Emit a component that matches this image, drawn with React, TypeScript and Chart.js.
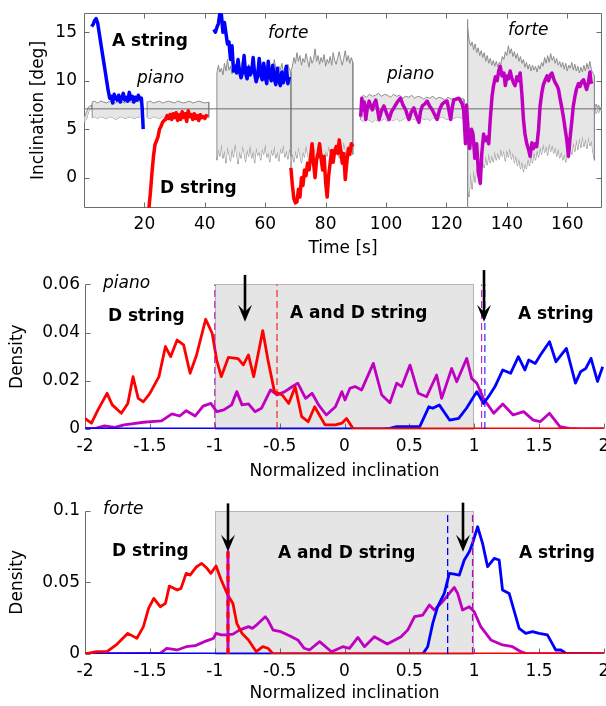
import React, { useEffect, useRef } from 'react';
import { Chart, registerables } from 'chart.js';

Chart.register(...registerables);

const FAMILY = "'DejaVu Sans', sans-serif";
const AXIS_COLOR = '#6b6b6b';
const RED = '#ff0000';
const BLUE = '#0000ff';
const MAGENTA = '#c000c0';
const ENV_LINE = '#8c8c8c';
const ENV_FILL = '#e6e6e6';
const MEAN_LINE = '#6e6e6e';
const SHADE = '#e5e5e5';

// ================= Top panel: inclination vs time =================
const timeTicks = [20, 40, 60, 80, 100, 120, 140, 160];
const inclTicks = [0, 5, 10, 15];

const tAPiano = [2.5, 3, 3.5, 4, 4.5, 5, 5.5, 6, 6.5, 7, 7.5, 8, 8.5, 9, 9.5, 10, 10.5, 11, 11.5, 12, 12.5, 13, 13.5, 14, 14.5, 15, 15.5, 16, 16.5, 17, 17.5, 18, 18.5, 19, 19.3, 19.6];
const incAPiano = [15.6, 15.8, 16.2, 16.4, 16.0, 15.0, 14.0, 13.0, 12.0, 11.0, 10.0, 9.0, 8.2, 8.4, 7.7, 8.6, 8.2, 8.0, 8.5, 7.8, 8.2, 8.7, 8.0, 8.3, 7.9, 8.8, 8.1, 8.4, 7.8, 8.3, 8.0, 8.5, 8.1, 8.2, 7.0, 5.0];

const tDPiano = [21.5, 22, 22.5, 23, 23.5, 24, 24.5, 25, 25.5, 26, 26.5, 27, 27.5, 28, 28.5, 29, 29.5, 30, 30.5, 31, 31.5, 32, 32.5, 33, 33.5, 34, 34.5, 35, 35.5, 36, 36.5, 37, 37.5, 38, 38.5, 39, 39.5, 40, 40.5, 41];
const incDPiano = [-3.1, -1.5, 0.5, 2.2, 3.4, 3.8, 4.2, 5.0, 5.3, 5.7, 5.9, 6.0, 6.4, 6.1, 6.5, 6.0, 6.6, 6.2, 6.7, 5.9, 6.5, 6.0, 6.8, 6.2, 6.6, 5.8, 6.9, 6.3, 6.5, 6.0, 6.6, 6.1, 6.4, 5.9, 6.5, 6.2, 6.3, 6.1, 6.4, 6.3];

const tAForte = [43, 43.5, 44, 44.5, 45, 45.5, 46, 46.5, 47, 47.5, 48, 48.5, 49, 49.5,
  50, 50.5, 51, 51.5, 52, 52.5, 53, 53.5, 54, 54.5, 55, 55.5, 56, 56.5, 57, 57.5, 58, 58.5, 59, 59.5,
  60, 60.5, 61, 61.5, 62, 62.5, 63, 63.5, 64, 64.5, 65, 65.5, 66, 66.5, 67, 67.5, 68];
const incAForte = [15.3, 15.0, 15.5, 15.9, 17.0, 16.8, 15.0, 16.0, 14.9, 13.8, 14.0, 12.2, 13.6, 11.0,
  11.5, 10.8, 12.2, 11.0, 10.3, 10.9, 12.6, 10.8, 10.2, 11.4, 10.6, 10.9, 12.4, 10.7, 9.9, 10.5, 12.3, 10.6, 10.1, 11.8,
  10.4, 9.7, 12.0, 10.5, 10.0, 11.6, 10.2, 9.6, 11.3, 10.1, 9.5, 10.9, 9.8, 10.3, 11.5, 9.7, 10.4];

const tDForte = [68.5, 69, 69.5, 70, 70.5, 71, 71.5, 72, 72.5, 73, 73.5, 74, 74.5, 75, 75.5, 76, 76.5, 77, 77.5, 78,
  78.5, 79, 79.5, 80, 80.5, 81, 81.5, 82, 82.5, 83, 83.5, 84, 84.5, 85, 85.5, 86, 86.5, 87, 87.5, 88, 88.5, 89];
const incDForte = [1.0, -0.8, -2.2, -2.6, -2.5, -1.2, -2.0, 0.0, -0.8, 0.8, 0.2, 1.5, 0.8, 2.0, 3.5, 1.5, 0.0, 1.8, 2.5, 3.5,
  2.0, 0.8, 2.2, -0.5, -2.0, 0.2, 1.5, 2.8, 1.6, 2.8, 3.2, 2.5, 3.9, 2.8, 1.5, 2.5, -0.2, 1.5, 3.0, 2.4, 3.5, 3.2];

const tADPiano = [91.6, 92.0, 92.4, 92.8, 93.3, 93.8, 94.4, 95.0, 95.5, 96.0,
  96.6, 97.2, 97.7, 98.5, 99.3, 100.2, 101.0, 101.8, 102.6, 103.7,
  104.8, 105.6, 106.5, 107.0, 107.6, 108.4, 109.2, 110.0, 110.9, 111.4,
  112.0, 112.8, 113.6, 114.4, 115.3, 116.1, 116.9, 117.7, 118.6, 119.4,
  120.2, 120.8, 121.4, 121.9, 122.4, 123.2, 124.1, 124.7, 125.2, 125.7];
const incADPiano = [6.3, 8.2, 7.0, 7.8, 6.0, 7.2, 7.9, 7.3, 7.0, 7.6,
  8.0, 7.0, 6.0, 6.9, 7.4, 6.6, 6.0, 6.8, 7.2, 7.8,
  8.2, 7.5, 7.0, 6.5, 6.0, 6.8, 7.2, 6.4, 5.7, 6.8,
  7.4, 7.6, 7.9, 7.4, 7.0, 6.5, 6.0, 7.0, 7.6, 7.8,
  7.9, 7.0, 6.0, 7.2, 8.0, 8.1, 8.2, 7.9, 7.6, 7.0];

const tADForte = [125.7, 126.3, 126.6, 127.2, 127.7, 128.3, 128.8, 129.4, 130.0, 130.6,
  131.2, 131.7, 132.3, 132.8, 133.4, 134.0, 134.5, 135.1, 135.6, 136.2,
  136.8, 137.3, 137.8, 138.4, 139.0, 139.5, 140.0, 140.5, 141.1, 141.6,
  142.2, 142.7, 143.3, 143.8, 144.4, 145.0, 145.5, 146.0, 146.6, 147.2,
  147.7, 148.3, 148.8, 149.4, 149.9, 150.5, 151.0, 151.6, 152.1, 152.7,
  153.3, 153.8, 154.4, 154.9, 155.5, 156.0, 156.6, 157.1, 157.6, 158.2,
  158.7, 159.3, 159.8, 160.4, 160.9, 161.5, 162.0, 162.6, 163.1, 163.7,
  164.2, 164.8, 165.4, 165.9, 166.4, 167.0, 167.5, 167.8, 168.1];
const incADForte = [7.0, 3.5, 7.5, 4.8, 3.0, 5.0, 4.5, 2.0, 3.5, 0.5,
  -0.6, 2.5, 4.5, 3.8, 4.2, 3.5, 6.0, 8.4, 9.5, 10.4,
  10.0, 11.0, 11.5, 10.5, 10.8, 9.5, 10.5, 10.2, 11.0, 10.3,
  9.8, 9.5, 10.4, 10.0, 10.8, 8.5, 6.0, 4.5, 3.5, 2.9,
  2.2, 3.6, 3.0, 3.5, 3.2, 5.0, 7.4, 8.8, 9.6, 10.1,
  10.5, 10.0, 10.6, 10.8, 10.2, 9.8, 9.5, 9.1, 8.2, 7.2,
  6.3, 5.0, 4.0, 2.2, 4.0, 5.8, 7.4, 8.5, 9.2, 9.7,
  9.4, 9.9, 10.1, 9.6, 9.1, 9.8, 10.9, 10.0, 9.7];

const tMean = [0, 171.5];
const incMean = [7.1, 7.1];
const tSpike = [127, 127];
const incSpike = [16.3, -3.13];

// grey envelopes (upper / lower) of all strings
const tEnv0 = [0, 0.5, 1, 1.5, 2, 2.5];
const upEnv0 = [6.2, 6.5, 6.9, 7.3, 7.4, 7.5];
const loEnv0 = [5.7, 5.9, 6.2, 6.8, 7.0, 7.1];

const tEnv1 = [2.7, 3.5, 4.5, 5.5, 6.5, 7.5, 8.5, 9.5, 10.5, 11.5, 12.5, 13.5, 14.5, 15.5, 16.5, 17.5, 18.5, 19.2];
const upEnv1 = [7.8, 7.9, 7.7, 7.9, 7.8, 7.7, 7.9, 7.8, 7.7, 7.9, 7.8, 7.7, 7.9, 7.8, 7.7, 7.9, 7.8, 7.8];
const loEnv1 = [6.2, 6.3, 6.1, 6.3, 6.2, 6.1, 6.3, 6.2, 6.0, 6.2, 6.3, 6.1, 6.2, 6.3, 6.1, 6.2, 6.3, 6.2];

const tEnv2 = [20.9, 22, 23, 24, 25, 26, 27, 28, 29, 30, 31, 32, 33, 34, 35, 36, 37, 38, 39, 40, 41.3];
const upEnv2 = [7.8, 7.9, 7.7, 7.8, 7.9, 7.7, 7.8, 7.9, 7.8, 7.7, 7.9, 7.8, 7.7, 7.8, 7.9, 7.7, 7.8, 7.9, 7.8, 7.7, 7.8];
const loEnv2 = [6.2, 6.1, 6.3, 6.2, 6.1, 6.3, 6.2, 6.1, 6.3, 6.2, 6.1, 6.3, 6.2, 6.1, 6.3, 6.2, 6.1, 6.2, 6.3, 6.2, 6.2];

const tEnv3 = [44, 44.5, 45, 45.5, 46, 46.5, 47, 47.5, 48, 48.5,
  49, 49.5, 50, 50.5, 51, 51.5, 52, 52.5, 53, 53.5,
  54, 54.5, 55, 55.5, 56, 56.5, 57, 57.5, 58, 58.5,
  59, 59.5, 60, 60.5, 61, 61.5, 62, 62.5, 63, 63.5,
  64, 64.5, 65, 65.5, 66, 66.5, 67, 67.5, 68, 68.5];
const upEnv3 = [10.8, 11.6, 10.9, 11.3, 10.6, 11.8, 11.0, 12.2, 11.1, 11.5,
  10.7, 11.9, 11.2, 12.0, 10.9, 11.4, 11.0, 12.3, 11.1, 11.6,
  10.8, 11.7, 11.2, 11.0, 12.1, 11.3, 10.7, 11.5, 11.0, 12.0,
  11.2, 10.8, 11.6, 11.1, 11.9, 10.9, 11.4, 11.0, 12.2, 11.3,
  10.8, 11.5, 11.1, 11.8, 10.9, 11.4, 11.0, 11.7, 11.2, 10.9];
const loEnv3 = [1.8, 2.9, 2.2, 3.5, 2.0, 2.8, 1.5, 3.2, 2.4, 1.7,
  3.0, 2.1, 3.6, 2.5, 1.4, 2.7, 2.0, 3.3, 2.6, 1.6,
  2.9, 2.2, 3.4, 2.0, 2.8, 1.5, 3.1, 2.3, 2.7, 1.8,
  3.0, 2.4, 3.5, 2.1, 2.6, 1.6, 2.9, 2.3, 3.3, 2.0,
  2.7, 1.7, 3.0, 2.5, 3.4, 2.1, 2.8, 1.9, 3.0, 2.2];

const tEnv4 = [68.5, 69, 69.5, 70, 70.5, 71, 71.5, 72, 72.5, 73,
  73.5, 74, 74.5, 75, 75.5, 76, 76.5, 77, 77.5, 78,
  78.5, 79, 79.5, 80, 80.5, 81, 81.5, 82, 82.5, 83,
  83.5, 84, 84.5, 85, 85.5, 86, 86.5, 87, 87.5, 88,
  88.5, 89];
const upEnv4 = [11.0, 11.5, 12.4, 11.8, 12.9, 12.0, 12.6, 11.6, 12.3, 11.9,
  12.8, 12.1, 11.4, 12.5, 11.8, 12.2, 13.3, 12.0, 12.6, 11.7,
  12.4, 11.9, 12.7, 11.5, 12.2, 11.8, 12.5, 11.6, 12.9, 12.1,
  11.7, 12.4, 13.0, 12.2, 11.6, 12.3, 13.1, 12.0, 12.6, 11.8,
  12.4, 11.9];
const loEnv4 = [1.0, 2.5, 1.6, 2.8, 2.0, 3.2, 2.3, 1.5, 2.7, 2.1,
  3.4, 2.4, 1.8, 3.0, 2.2, 3.6, 2.5, 1.7, 2.9, 2.0,
  3.1, 2.4, 1.6, 2.8, 2.2, 3.3, 2.6, 1.9, 3.0, 2.3,
  3.5, 2.7, 2.0, 3.2, 2.5, 3.7, 2.8, 2.1, 3.4, 2.6,
  3.1, 2.4];

const tEnv5 = [91.5, 92.5, 93.5, 94.5, 95.5, 96.5, 97.5, 98.5, 99.5, 100.5, 101.5, 102.5, 103.5, 104.5, 105.5, 106.5, 107.5,
  108.5, 109.5, 110.5, 111.5, 112.5, 113.5, 114.5, 115.5, 116.5, 117.5, 118.5, 119.5, 120.5, 121.5, 122.5, 123.5, 124.5, 125.8];
const upEnv5 = [8.2, 8.5, 8.3, 8.6, 8.4, 8.5, 8.7, 8.4, 8.6, 8.5, 8.3, 8.6, 8.4, 8.5, 8.2, 8.4, 8.3,
  8.5, 8.2, 8.4, 8.3, 8.1, 8.3, 8.2, 8.4, 8.1, 8.3, 8.2, 8.0, 8.3, 8.1, 8.2, 8.0, 8.2, 8.1];
const loEnv5 = [6.0, 5.8, 6.1, 5.9, 5.7, 6.0, 5.8, 5.9, 6.1, 5.8, 6.0, 5.9, 6.1, 5.8, 6.0, 6.2, 5.9,
  6.1, 6.0, 5.9, 6.2, 6.0, 6.1, 5.9, 6.2, 6.0, 6.1, 6.3, 6.1, 6.0, 6.2, 6.1, 6.3, 6.2, 6.1];

const tEnv6 = [127, 127.5, 128, 128.5, 129, 129.5, 130, 130.5, 131, 131.5,
  132, 132.5, 133, 133.5, 134, 134.5, 135, 135.5, 136, 136.5,
  137, 137.5, 138, 138.5, 139, 139.5, 140, 140.5, 141, 141.5,
  142, 142.5, 143, 143.5, 144, 144.5, 145, 145.5, 146, 146.5,
  147, 147.5, 148, 148.5, 149, 149.5, 150, 150.5, 151, 151.5,
  152, 152.5, 153, 153.5, 154, 154.5, 155, 155.5, 156, 156.5,
  157, 157.5, 158, 158.5, 159, 159.5, 160, 160.5, 161, 161.5,
  162, 162.5, 163, 163.5, 164, 164.5, 165, 165.5, 166, 166.5,
  167, 167.5, 168, 168.5, 169];
const upEnv6 = [15.5, 14.2, 13.6, 14.0, 13.2, 13.8, 12.9, 13.4, 12.6, 13.1,
  12.4, 12.9, 12.0, 12.6, 11.8, 12.3, 11.6, 12.1, 11.5, 12.0,
  11.4, 11.9, 11.7, 12.5, 12.2, 13.0, 12.6, 13.6, 12.8, 13.3,
  12.5, 13.0, 12.3, 12.8, 12.0, 12.5, 11.8, 12.2, 11.4, 11.9,
  11.2, 11.7, 11.0, 11.6, 11.1, 11.5, 10.9, 11.6, 11.2, 11.9,
  11.5, 12.4, 11.8, 12.6, 11.9, 12.8, 12.1, 12.5, 11.8, 12.3,
  11.6, 12.0, 11.4, 11.9, 11.2, 11.8, 11.0, 11.6, 11.3, 11.9,
  11.1, 11.7, 11.0, 11.5, 10.8, 11.4, 10.9, 11.6, 11.0, 11.8,
  11.2, 12.0, 11.1, 10.8, 10.5];
const loEnv6 = [-1.0, -2.0, 0.5, -1.2, 0.8, -0.5, 1.2, 0.0, 1.5, 0.4,
  1.8, 1.0, 2.2, 1.3, 2.5, 1.5, 2.3, 1.6, 2.7, 1.8,
  2.6, 1.9, 3.0, 2.2, 2.8, 1.7, 2.9, 2.1, 3.1, 1.9,
  2.6, 1.5, 2.3, 1.2, 2.0, 0.9, 1.7, 0.6, 1.5, 0.9,
  2.0, 1.2, 2.4, 1.5, 2.7, 1.8, 2.9, 2.1, 3.2, 2.4,
  3.5, 2.6, 3.3, 2.3, 3.6, 2.7, 3.4, 2.5, 3.2, 2.2,
  3.0, 2.0, 2.7, 1.8, 2.5, 1.6, 2.9, 2.0, 3.3, 2.4,
  3.6, 2.7, 3.9, 2.9, 4.1, 3.1, 4.3, 3.2, 4.0, 3.0,
  4.2, 3.3, 3.8, 2.6, 1.8];

const tEnv7 = [169.2, 169.6, 170, 170.4, 170.8, 171.2, 171.5];
const upEnv7 = [7.4, 7.6, 7.2, 7.5, 7.0, 7.3, 7.1];
const loEnv7 = [6.8, 6.6, 7.0, 6.7, 7.1, 6.9, 7.0];

// ================= Density panels =================
const normTicks = [-2, -1.5, -1, -0.5, 0, 0.5, 1, 1.5, 2];
const densTicksPiano = [0, 0.02, 0.04, 0.06];
const densTicksForte = [0, 0.05, 0.1];
const bothRange = [-1, 1];

// piano
const xDPiano = [-2.0, -1.95, -1.9, -1.83, -1.79, -1.72, -1.67, -1.63, -1.59, -1.55, -1.5, -1.43, -1.38, -1.34, -1.29, -1.24, -1.19, -1.14, -1.07, -1.02,
  -0.985, -0.95, -0.895, -0.82, -0.78, -0.74, -0.7, -0.63, -0.59, -0.54, -0.48, -0.43, -0.38, -0.33, -0.28, -0.23, -0.15, -0.07, -0.02, 0.016, 0.068, 0.1, 2.0];
const dDPiano = [0.0044, 0.0024, 0.0079, 0.0148, 0.0100, 0.0065, 0.0106, 0.0217, 0.0127, 0.0113, 0.0148, 0.0217, 0.0342, 0.0300, 0.0369, 0.0349, 0.0231, 0.0307, 0.0455, 0.0397,
  0.0286, 0.0217, 0.0297, 0.0292, 0.0266, 0.0307, 0.0217, 0.0408, 0.0286, 0.0155, 0.0141, 0.0106, 0.0175, 0.0051, 0.0030, 0.0092, 0.0017, 0.0017, 0.0024, 0.0044, 0, 0, 0];

const xADPiano = [-2.0, -1.92, -1.85, -1.77, -1.7, -1.64, -1.55, -1.49, -1.41, -1.33, -1.27, -1.22, -1.15, -1.09, -1.03,
  -0.985, -0.93, -0.87, -0.83, -0.79, -0.74, -0.69, -0.64, -0.57, -0.52, -0.46, -0.41, -0.36, -0.30, -0.25,
  -0.20, -0.14, -0.07, -0.02, 0.004, 0.042, 0.081, 0.132, 0.222, 0.287, 0.35, 0.402, 0.441, 0.505, 0.569,
  0.633, 0.71, 0.749, 0.826, 0.865, 0.942, 0.98, 1.02, 1.07, 1.15, 1.22, 1.30, 1.38, 1.455, 1.51, 1.58, 1.66, 1.73, 1.81, 2.0];
const dADPiano = [0.0003, 0.0003, 0.0013, 0.0007, 0.0017, 0.0021, 0.0028, 0.0031, 0.0034, 0.0063, 0.0054, 0.0076, 0.0054, 0.0095, 0.0106,
  0.0072, 0.0079, 0.0100, 0.0155, 0.0100, 0.0104, 0.0072, 0.0086, 0.0162, 0.0141, 0.0155, 0.0173, 0.0190, 0.0127, 0.0148,
  0.0100, 0.0058, 0.0092, 0.0155, 0.0120, 0.0169, 0.0176, 0.0162, 0.0272, 0.0141, 0.0109, 0.0190, 0.0176, 0.0265, 0.0148,
  0.0134, 0.0224, 0.0127, 0.0251, 0.0196, 0.0293, 0.0210, 0.0190, 0.0127, 0.0065, 0.0104, 0.0058, 0.0072, 0.0037, 0.0031, 0.0065, 0.0010, 0.0003, 0, 0];

const xAPiano = [-2.0, 0.30, 0.35, 0.402, 0.505, 0.58, 0.65, 0.68, 0.73, 0.81, 0.88, 0.94, 1.02, 1.07, 1.11, 1.16,
  1.22, 1.28, 1.34, 1.39, 1.42, 1.47, 1.51, 1.58, 1.63, 1.71, 1.78, 1.82, 1.86, 1.90, 1.95, 1.99];
const dAPiano = [0, 0, 0.0003, 0.0010, 0.0010, 0.0010, 0.0092, 0.0086, 0.0100, 0.0037, 0.0044, 0.0086, 0.0155, 0.0106, 0.0134, 0.0176,
  0.0245, 0.0231, 0.0300, 0.0245, 0.0286, 0.0272, 0.0307, 0.0362, 0.0279, 0.0334, 0.0190, 0.0238, 0.0251, 0.0293, 0.0197, 0.0258];

// forte
const xDForte = [-2.0, -1.91, -1.83, -1.76, -1.67, -1.60, -1.55, -1.51, -1.47, -1.42, -1.38, -1.35, -1.29, -1.26, -1.22, -1.19,
  -1.14, -1.10, -1.06, -1.03, -0.99, -0.95, -0.90, -0.86, -0.83, -0.79, -0.74, -0.68, -0.63, -0.59, -0.55, 2.0];
const dDForte = [0, 0.0016, 0.0016, 0.0063, 0.0144, 0.0109, 0.0191, 0.0319, 0.0388, 0.0330, 0.0353, 0.0474, 0.0446, 0.0458, 0.0563, 0.0551,
  0.0609, 0.0632, 0.0598, 0.0563, 0.0614, 0.0516, 0.0412, 0.0353, 0.0214, 0.0144, 0.0098, 0.0016, 0.0051, 0.0040, 0, 0];

const xADForte = [-2.0, -1.58, -1.42, -1.37, -1.29, -1.22, -1.15, -1.11, -1.08, -1.01, -0.99, -0.95, -0.91, -0.86, -0.81, -0.74, -0.71, -0.67,
  -0.61, -0.59, -0.55, -0.49, -0.42, -0.36, -0.31, -0.27, -0.192, -0.10, -0.013, 0.038, 0.103, 0.154, 0.23, 0.33, 0.436, 0.487,
  0.54, 0.603, 0.654, 0.692, 0.756, 0.808, 0.846, 0.872, 0.91, 0.962, 1.0, 1.05, 1.128, 1.218, 1.295, 1.359, 1.397, 2.0];
const dADForte = [0, 0.0005, 0.0005, 0.0040, 0.0028, 0.0051, 0.0058, 0.0074, 0.0086, 0.0109, 0.0144, 0.0133, 0.0133, 0.0139, 0.0167, 0.0191, 0.0179, 0.0209,
  0.0260, 0.0237, 0.0167, 0.0156, 0.0126, 0.0098, 0.0040, 0.0028, 0.0086, 0.0016, 0.0051, 0.0040, 0.0116, 0.0051, 0.0121, 0.0070, 0.0121, 0.0167,
  0.0260, 0.0272, 0.0342, 0.0307, 0.0365, 0.0423, 0.0465, 0.0423, 0.0307, 0.0330, 0.0295, 0.0191, 0.0098, 0.0063, 0.0051, 0.0016, 0.0005, 0];

const xAForte = [-2.0, 0.603, 0.641, 0.68, 0.718, 0.769, 0.808, 0.846, 0.885, 0.923, 0.962, 0.987, 1.026, 1.064, 1.103, 1.154,
  1.192, 1.218, 1.269, 1.346, 1.397, 1.449, 1.50, 1.564, 1.628, 1.667, 1.705, 2.0];
const dAForte = [0, 0, 0.0051, 0.0214, 0.0330, 0.0423, 0.0563, 0.0558, 0.0551, 0.0656, 0.0714, 0.0772, 0.0888, 0.0772, 0.0609, 0.0667,
  0.0656, 0.0446, 0.0423, 0.0179, 0.0144, 0.0156, 0.0144, 0.0133, 0.0028, 0.0028, 0.0005, 0];

// threshold markers (dashed lines) and arrows
const pianoThrMag = [-1, 1.057];
const pianoThrRed = [-0.52];
const pianoThrBlue = [1.082];
const forteThrBlue = [0.795];
const forteThrMag = [0.987];
const forteThrMix = [-0.898];
const forteThrMixTop = 0.072;
const pianoArrowX = [-0.767, 1.075];
const pianoArrowTop = [0.0639, 0.0659];
const pianoArrowTip = [0.0445, 0.0445];
const forteArrowX = [-0.898, 0.91];
const forteArrowTop = [0.1051, 0.1056];
const forteArrowTip = [0.0714, 0.0714];

// ================= helpers =================
type XY = { x: number; y: number };
const pts = (xs: number[], ys: number[]): XY[] => xs.map((x, i) => ({ x, y: ys[i] }));

function lineSet(data: XY[], color: string, width: number, order: number, extra: any = {}) {
  return {
    data, borderColor: color, backgroundColor: color, borderWidth: width, pointRadius: 0,
    fill: false, order, borderJoinStyle: 'round', tension: 0, ...extra,
  };
}

function envelope(t: number[], up: number[], lo: number[]) {
  const n = t.length;
  const upper = [{ x: t[0], y: lo[0] }, ...pts(t, up), { x: t[n - 1], y: lo[n - 1] }];
  return [
    lineSet(upper, ENV_LINE, 1, 3, { fill: '+1', backgroundColor: ENV_FILL, clip: 0, borderJoinStyle: 'miter' }),
    lineSet(pts(t, lo), ENV_LINE, 1, 3, { clip: 0, borderJoinStyle: 'miter' }),
  ];
}

function vline(x: number, y0: number, y1: number, color: string, width: number, dash: number[], order: number) {
  return lineSet([{ x, y: y0 }, { x, y: y1 }], color, width, order, { borderDash: dash, borderCapStyle: 'butt' });
}

const font = (size = 17, style = '') => `${style} ${size}px ${FAMILY}`.trim();

function makeDecor(cfg: any) {
  return {
    id: 'decor',
    beforeDatasetsDraw(chart: any) {
      const { ctx, chartArea: ca } = chart;
      const xs = chart.scales.x;
      const ys = chart.scales.y;
      ctx.save();
      if (cfg.shade) {
        const l = Math.round(xs.getPixelForValue(cfg.shade[0]));
        const r = Math.round(xs.getPixelForValue(cfg.shade[1]));
        const t = Math.round(ys.getPixelForValue(ys.max));
        const b = Math.round(ys.getPixelForValue(0));
        ctx.fillStyle = SHADE;
        ctx.fillRect(l, t, r - l, b - t);
        ctx.strokeStyle = '#b5b5b5';
        ctx.lineWidth = 1;
        ctx.strokeRect(l + 0.5, t + 0.5, r - l - 1, b - t);
      }
      ctx.strokeStyle = AXIS_COLOR;
      ctx.lineWidth = 1;
      const L = Math.round(ca.left) + 0.5;
      const R = Math.round(ca.right) - 0.5;
      const T = Math.round(ca.top) + 0.5;
      const B = Math.round(ca.bottom) - 0.5;
      ctx.beginPath();
      if (cfg.box) {
        ctx.rect(L, T, R - L, B - T);
      } else {
        ctx.moveTo(L, T);
        ctx.lineTo(L, B);
        ctx.lineTo(R, B);
      }
      const tl = 5;
      for (const v of cfg.xTicks) {
        const px = Math.round(xs.getPixelForValue(v)) + 0.5;
        ctx.moveTo(px, B);
        ctx.lineTo(px, B - tl);
        if (cfg.box) { ctx.moveTo(px, T); ctx.lineTo(px, T + tl); }
      }
      for (const v of cfg.yTicks) {
        const py = Math.round(ys.getPixelForValue(v)) + 0.5;
        ctx.moveTo(L, py);
        ctx.lineTo(L + tl, py);
        if (cfg.box) { ctx.moveTo(R, py); ctx.lineTo(R - tl, py); }
      }
      ctx.stroke();
      ctx.restore();
    },
    afterDatasetsDraw(chart: any) {
      const { ctx } = chart;
      const xs = chart.scales.x;
      const ys = chart.scales.y;
      ctx.save();
      (cfg.arrows || []).forEach((a: any) => {
        const px = Math.round(xs.getPixelForValue(a.x));
        const top = ys.getPixelForValue(a.top);
        const tip = ys.getPixelForValue(a.tip);
        ctx.strokeStyle = '#000';
        ctx.lineWidth = 2.6;
        ctx.beginPath();
        ctx.moveTo(px, top);
        ctx.lineTo(px, tip - 9);
        ctx.stroke();
        ctx.fillStyle = '#000';
        ctx.beginPath();
        ctx.moveTo(px, tip);
        ctx.lineTo(px - 7, tip - 17);
        ctx.lineTo(px, tip - 10);
        ctx.lineTo(px + 7, tip - 17);
        ctx.closePath();
        ctx.fill();
      });
      ctx.fillStyle = '#000';
      ctx.textBaseline = 'alphabetic';
      ctx.textAlign = 'left';
      (cfg.texts || []).forEach((t: any) => {
        ctx.font = font(17, t.style);
        ctx.fillText(t.text, xs.getPixelForValue(t.x), ys.getPixelForValue(t.y));
      });
      ctx.restore();
    },
  };
}

function scaleX(min: number, max: number, ticks: number[], height: number, tickPad: number, title: string, titlePad: number) {
  return {
    type: 'linear', min, max,
    grid: { display: false, drawTicks: false },
    border: { display: false },
    ticks: { font: { family: FAMILY, size: 17 }, color: '#000', padding: tickPad, maxRotation: 0, autoSkip: false, callback: (v: number) => String(v) },
    afterBuildTicks: (s: any) => { s.ticks = ticks.map((v) => ({ value: v })); },
    afterFit: (s: any) => { s.height = height; s.paddingLeft = 0; s.paddingRight = 0; },
    title: { display: true, text: title, color: '#000', font: { family: FAMILY, size: 17 }, padding: { top: 0, bottom: titlePad } },
  };
}

function scaleY(min: number, max: number, ticks: number[], width: number, tickPad: number, title: string, titlePad: number) {
  return {
    type: 'linear', min, max,
    grid: { display: false, drawTicks: false },
    border: { display: false },
    ticks: { font: { family: FAMILY, size: 17 }, color: '#000', padding: tickPad, autoSkip: false, callback: (v: number) => String(v) },
    afterBuildTicks: (s: any) => { s.ticks = ticks.map((v) => ({ value: v })); },
    afterFit: (s: any) => { s.width = width; s.paddingTop = 0; s.paddingBottom = 0; },
    title: { display: true, text: title, color: '#000', font: { family: FAMILY, size: 17 }, padding: { top: titlePad, bottom: 0 } },
  };
}

const baseOptions = (padding: any, scales: any) => ({
  responsive: false,
  animation: false,
  events: [],
  layout: { padding },
  plugins: { legend: { display: false }, tooltip: { enabled: false } },
  scales,
});

function topConfig() {
  const datasets = [
    lineSet(pts(tAPiano, incAPiano), BLUE, 3.5, 1, { clip: 0 }),
    lineSet(pts(tDPiano, incDPiano), RED, 3.5, 1, { clip: 0 }),
    lineSet(pts(tAForte, incAForte), BLUE, 3.5, 1, { clip: 0 }),
    lineSet(pts(tDForte, incDForte), RED, 3.5, 1, { clip: 0 }),
    lineSet(pts(tADPiano, incADPiano), MAGENTA, 3.5, 1, { clip: 0 }),
    lineSet(pts(tADForte, incADForte), MAGENTA, 3.5, 1, { clip: 0 }),
    lineSet(pts(tMean, incMean), MEAN_LINE, 1, 2, { clip: 0 }),
    lineSet(pts(tSpike, incSpike), ENV_LINE, 1, 2, { clip: 0 }),
    ...envelope(tEnv0, upEnv0, loEnv0),
    ...envelope(tEnv1, upEnv1, loEnv1),
    ...envelope(tEnv2, upEnv2, loEnv2),
    ...envelope(tEnv3, upEnv3, loEnv3),
    ...envelope(tEnv4, upEnv4, loEnv4),
    ...envelope(tEnv5, upEnv5, loEnv5),
    ...envelope(tEnv6, upEnv6, loEnv6),
    ...envelope(tEnv7, upEnv7, loEnv7),
  ];
  const decor = makeDecor({
    box: true, xTicks: timeTicks, yTicks: inclTicks,
    texts: [
      { text: 'A string', x: 9.27, y: 13.62, style: 'bold' },
      { text: 'piano', x: 17.55, y: 9.8, style: 'italic' },
      { text: 'D string', x: 25.16, y: -1.61, style: 'bold' },
      { text: 'forte', x: 60.92, y: 14.38, style: 'italic' },
      { text: 'piano', x: 100.3, y: 10.15, style: 'italic' },
      { text: 'forte', x: 140.4, y: 14.72, style: 'italic' },
    ],
  });
  return {
    type: 'line',
    data: { datasets },
    options: baseOptions({ left: 0, right: 4, top: 13, bottom: 0 }, {
      x: scaleX(0, 171.5, timeTicks, 57, 6, 'Time [s]', 5.8),
      y: scaleY(-3.13, 16.99, inclTicks, 84, 7, 'Inclination [deg]', 28),
    }),
    plugins: [decor],
  };
}

function densityConfig(p: any) {
  return {
    type: 'line',
    data: { datasets: p.datasets },
    options: baseOptions({ left: 0, right: 2, top: p.top, bottom: 0 }, {
      x: scaleX(-2, 2, normTicks, p.xHeight, 7.8, 'Normalized inclination', p.titlePad),
      y: scaleY(0, p.yMax, p.yTicks, 85, 5, 'Density', 7.8),
    }),
    plugins: [makeDecor({ box: false, shade: [bothRange[0], bothRange[1]], xTicks: normTicks, yTicks: p.yTicks, arrows: p.arrows, texts: p.texts })],
  };
}

function pianoConfig() {
  const yMax = densTicksPiano[densTicksPiano.length - 1];
  const datasets = [
    ...pianoThrMag.map((x) => vline(x, 0, yMax, MAGENTA, 1, [7, 4], 1)),
    ...pianoThrRed.map((x) => vline(x, 0, yMax, RED, 1, [7, 4], 1)),
    ...pianoThrBlue.map((x) => vline(x, 0, yMax, BLUE, 1, [7, 4], 1)),
    lineSet(pts(xDPiano, dDPiano), RED, 2.8, 2),
    lineSet(pts(xAPiano, dAPiano), BLUE, 2.8, 3),
    lineSet(pts(xADPiano, dADPiano), MAGENTA, 2.8, 4),
  ];
  return densityConfig({
    datasets, yMax, yTicks: densTicksPiano, top: 19.3, xHeight: 56, titlePad: 3.3,
    arrows: pianoArrowX.map((x, i) => ({ x, top: pianoArrowTop[i], tip: pianoArrowTip[i] })),
    texts: [
      { text: 'piano', x: -1.861, y: 0.0583, style: 'italic' },
      { text: 'D string', x: -1.823, y: 0.0449, style: 'bold' },
      { text: 'A and D string', x: -0.42, y: 0.046, style: 'bold' },
      { text: 'A string', x: 1.337, y: 0.0456, style: 'bold' },
    ],
  });
}

function forteConfig() {
  const yMax = densTicksForte[densTicksForte.length - 1];
  const datasets = [
    ...forteThrMix.map((x) => vline(x, 0, forteThrMixTop, RED, 3, [6, 6], 0)),
    ...forteThrMix.map((x) => vline(x, 0, forteThrMixTop, MAGENTA, 3, [], 1)),
    ...forteThrBlue.map((x) => vline(x, 0, yMax, BLUE, 1.3, [7, 4], 1)),
    ...forteThrMag.map((x) => vline(x, 0, yMax, MAGENTA, 1.3, [7, 4], 1)),
    lineSet(pts(xDForte, dDForte), RED, 2.8, 2),
    lineSet(pts(xAForte, dAForte), BLUE, 2.8, 3),
    lineSet(pts(xADForte, dADForte), MAGENTA, 2.8, 4),
  ];
  return densityConfig({
    datasets, yMax, yTicks: densTicksForte, top: 25.7, xHeight: 52, titlePad: 1.8,
    arrows: forteArrowX.map((x, i) => ({ x, top: forteArrowTop[i], tip: forteArrowTip[i] })),
    texts: [
      { text: 'forte', x: -1.861, y: 0.0975, style: 'italic' },
      { text: 'D string', x: -1.792, y: 0.0684, style: 'bold' },
      { text: 'A and D string', x: -0.513, y: 0.0668, style: 'bold' },
      { text: 'A string', x: 1.345, y: 0.0668, style: 'bold' },
    ],
  });
}

function ChartCanvas({ make, top, height }: { make: () => any; top: number; height: number }) {
  const ref = useRef<HTMLCanvasElement>(null);
  useEffect(() => {
    const chart = new Chart(ref.current as HTMLCanvasElement, make());
    return () => chart.destroy();
  }, []);
  return (
    <canvas
      ref={ref}
      width={606}
      height={height}
      style={{ position: 'absolute', left: 0, top, width: 606, height, display: 'block' }}
    />
  );
}

export default function App() {
  return (
    <div style={{ position: 'absolute', left: 0, top: 0, width: 606, height: 706, background: '#fff', overflow: 'hidden' }}>
      <ChartCanvas make={topConfig} top={0} height={265} />
      <ChartCanvas make={pianoConfig} top={265} height={220} />
      <ChartCanvas make={forteConfig} top={485} height={221} />
    </div>
  );
}
